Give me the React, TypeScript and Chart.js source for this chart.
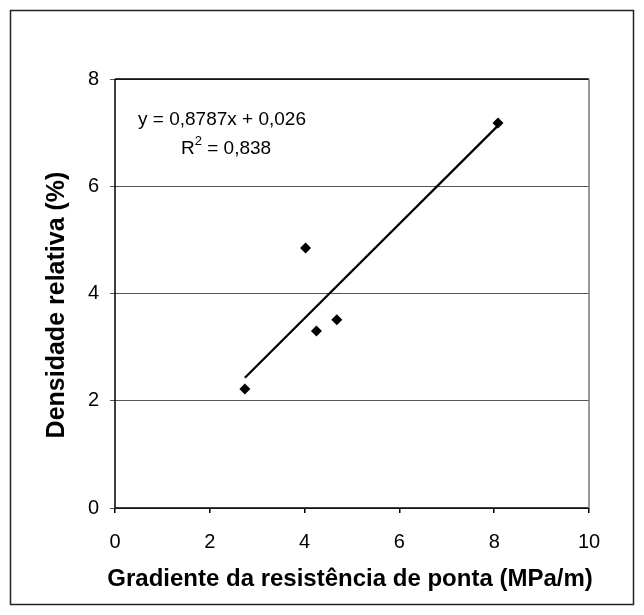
import React, { useEffect, useRef } from "react";
import { Chart, registerables } from "chart.js";

Chart.register(...registerables);

const pointsX = [2.74, 4.02, 4.25, 4.68, 8.08];
const pointsY = [2.22, 4.85, 3.3, 3.51, 7.18];
const trendX = [2.74, 8.08];
const trendY = [2.43, 7.13];
const xTicks = [0, 2, 4, 6, 8, 10];
const yTicks = [0, 2, 4, 6, 8];
const eqText = "y = 0,8787x + 0,026";
const r2Label = "R";
const r2Value = " = 0,838";
const xTitle = "Gradiente da resistência de ponta (MPa/m)";
const yTitle = "Densidade relativa (%)";

const FONT = "'Liberation Sans', Arial, sans-serif";

const framePlugin = {
  id: "frame",
  beforeDraw(chart: any) {
    const { ctx, width, height } = chart;
    ctx.save();
    ctx.fillStyle = "#fff";
    ctx.fillRect(0, 0, width, height);
    ctx.strokeStyle = "#222";
    ctx.lineWidth = 1.5;
    ctx.strokeRect(10.5, 10.5, width - 21, height - 21);
    ctx.restore();
  },
  afterDatasetsDraw(chart: any) {
    const { ctx, chartArea } = chart;
    const { left, right, top, bottom } = chartArea;
    ctx.save();
    ctx.lineWidth = 1.5;
    ctx.strokeStyle = "#000";
    ctx.beginPath();
    ctx.moveTo(left, top);
    ctx.lineTo(left, bottom);
    ctx.lineTo(right, bottom);
    ctx.moveTo(left, top);
    ctx.lineTo(right, top);
    ctx.stroke();
    ctx.strokeStyle = "#777";
    ctx.beginPath();
    ctx.moveTo(right, top);
    ctx.lineTo(right, bottom);
    ctx.stroke();
    // annotation
    ctx.fillStyle = "#000";
    ctx.font = `19px ${FONT}`;
    ctx.textBaseline = "middle";
    ctx.textAlign = "left";
    ctx.fillText(eqText, left + 23, 120);
    const rx = left + 66;
    ctx.fillText(r2Label, rx, 149);
    const rw = ctx.measureText(r2Label).width;
    ctx.font = `13px ${FONT}`;
    ctx.fillText("2", rx + rw, 141);
    const sw = ctx.measureText("2").width;
    ctx.font = `19px ${FONT}`;
    ctx.fillText(r2Value, rx + rw + sw, 149);
    // axis titles
    ctx.font = `bold 24px ${FONT}`;
    ctx.textAlign = "center";
    ctx.fillText(xTitle, 350, 579);
    ctx.translate(57, 305);
    ctx.rotate(-Math.PI / 2);
    ctx.font = `bold 25px ${FONT}`;
    ctx.fillText(yTitle, 0, 0);
    ctx.restore();
  },
};

export default function App() {
  const ref = useRef<HTMLCanvasElement>(null);
  useEffect(() => {
    if (!ref.current) return;
    const chart = new Chart(ref.current, {
      type: "scatter",
      data: {
        datasets: [
          {
            label: "trend",
            data: trendX.map((x, i) => ({ x, y: trendY[i] })),
            showLine: true,
            borderColor: "#000",
            borderWidth: 2.2,
            pointRadius: 0,
            fill: false,
          },
          {
            label: "data",
            data: pointsX.map((x, i) => ({ x, y: pointsY[i] })),
            pointStyle: "rectRot",
            pointRadius: 5.5,
            backgroundColor: "#000",
            borderColor: "#000",
            borderWidth: 0,
          },
        ],
      },
      options: {
        animation: false,
        responsive: false,
        devicePixelRatio: 1,
        layout: { padding: { left: 0, top: 79, right: 55, bottom: 0 } },
        plugins: { legend: { display: false }, tooltip: { enabled: false } },
        scales: {
          x: {
            type: "linear",
            min: 0,
            max: 10,
            afterBuildTicks: (s: any) => {
              s.ticks = xTicks.map((v) => ({ value: v }));
            },
            afterFit: (s: any) => {
              s.height = 107;
            },
            grid: {
              display: true,
              drawOnChartArea: false,
              drawTicks: true,
              tickLength: 5,
              color: "#000",
              lineWidth: 1.5,
            },
            border: { display: false },
            ticks: {
              color: "#000",
              font: { family: FONT, size: 20 },
              padding: 17,
              maxRotation: 0,
            },
          },
          y: {
            type: "linear",
            min: 0,
            max: 8,
            afterBuildTicks: (s: any) => {
              s.ticks = yTicks.map((v) => ({ value: v }));
            },
            afterFit: (s: any) => {
              s.width = 115;
            },
            grid: {
              display: true,
              drawOnChartArea: true,
              drawTicks: true,
              tickLength: 5,
              color: "#555",
              lineWidth: 1,
            },
            border: { display: false },
            ticks: {
              color: "#000",
              font: { family: FONT, size: 20 },
              padding: 11,
            },
          },
        },
      },
      plugins: [framePlugin],
    });
    return () => chart.destroy();
  }, []);
  return (
    <div style={{ position: "fixed", left: 0, top: 0, width: 644, height: 615, background: "#fff" }}>
      <canvas ref={ref} width={644} height={615} style={{ width: 644, height: 615, display: "block" }} />
    </div>
  );
}
